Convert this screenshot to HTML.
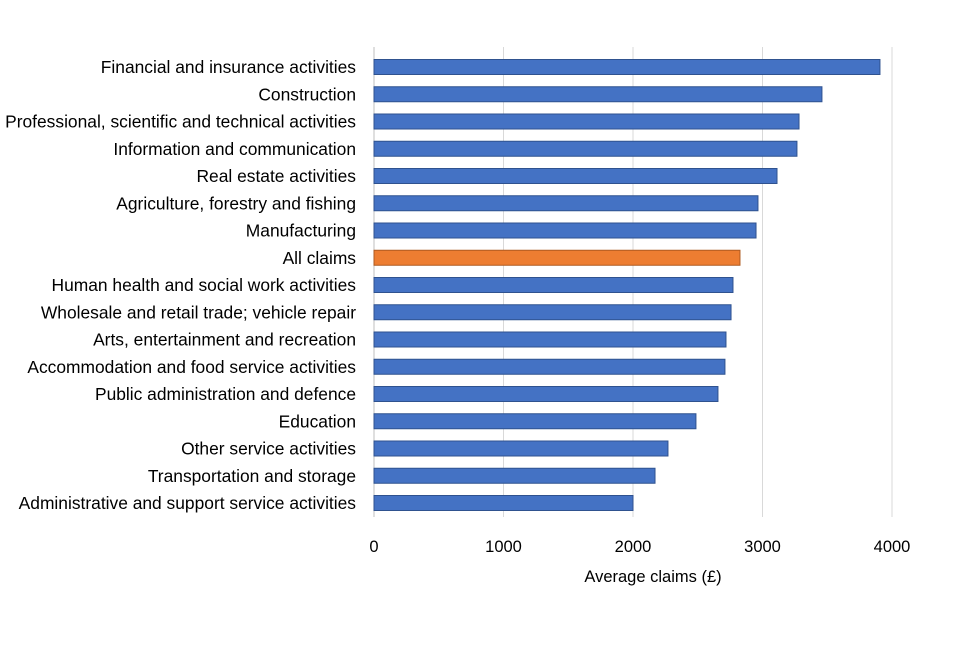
<!DOCTYPE html>
<html><head><meta charset="utf-8"><style>
body{margin:0;background:#fff;}
svg text{font-family:"Liberation Sans",sans-serif;fill:#000;}
</style></head><body>
<svg id="chart" width="960" height="640" xmlns="http://www.w3.org/2000/svg"></svg>
<script>
const categories=["Financial and insurance activities","Construction","Professional, scientific and technical activities","Information and communication","Real estate activities","Agriculture, forestry and fishing","Manufacturing","All claims","Human health and social work activities","Wholesale and retail trade; vehicle repair","Arts, entertainment and recreation","Accommodation and food service activities","Public administration and defence","Education","Other service activities","Transportation and storage","Administrative and support service activities"];
const values=[3907,3459,3282,3266,3112,2965,2950,2826,2772,2757,2718,2710,2656,2486,2270,2170,2000];
const tickValues=[0,1000,2000,3000,4000];
const tickLabels=["0","1000","2000","3000","4000"];
const svg=document.getElementById('chart');
const NS='http://www.w3.org/2000/svg';
const x0=374,pxPer=0.1295,yTop=67,step=27.25,bh=15;
const xs=v=>x0+v*pxPer;
const ys=i=>yTop+i*step;
function mk(t,a){const e=document.createElementNS(NS,t);for(const k in a)e.setAttribute(k,a[k]);svg.appendChild(e);return e;}
tickValues.forEach((v,i)=>{
 const g=mk('line',{x1:xs(v),x2:xs(v),y1:47,y2:517,stroke:i==0?'#bfbfbf':'#d9d9d9','stroke-width':1});
 
 
 const t=mk('text',{x:xs(v),y:552,'text-anchor':'middle',style:'font-size:16.5px'});t.textContent=tickLabels[i];
 
 
});
categories.forEach((c,i)=>{
 const r=mk('rect',{x:x0,y:ys(i)-bh/2,width:xs(values[i])-x0,height:bh,fill:c=="All claims"?'#ed7d31':'#4472c4',stroke:c=="All claims"?'#ae5a21':'#2f528f','stroke-width':1});
 
 
 const t=mk('text',{x:356,y:ys(i)+6,'text-anchor':'end',style:'font-size:17.4px'});t.textContent=c;
 
 
});
const at=mk('text',{x:653,y:582,'text-anchor':'middle',style:'font-size:16.5px'});at.textContent='Average claims (£)';


</script>
</body></html>
